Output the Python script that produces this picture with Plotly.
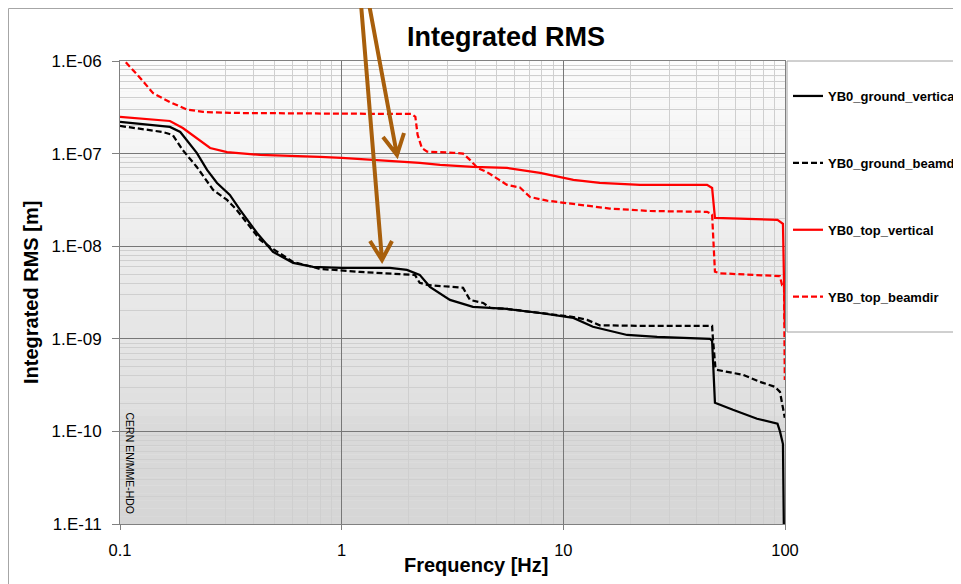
import plotly.graph_objects as go

# ---------------- data ----------------
freq_ground_vertical = [0.1, 0.168, 0.187, 0.222, 0.247, 0.274, 0.313, 0.348, 0.415, 0.49, 0.604, 0.743,
                        1.0, 1.65, 1.97, 2.25, 2.5, 3.08, 3.91, 5.57, 7.85, 11.1, 13.6, 19.4, 26.5, 45.9,
                        46.9, 47.6, 48.3, 58.2, 74.8, 92.5, 94.9, 97.9, 99.8]
rms_ground_vertical = [2.2e-7, 1.94e-7, 1.71e-7, 1.02e-7, 6.67e-8, 4.82e-8, 3.58e-8, 2.47e-8, 1.39e-8, 8.69e-9,
                       6.61e-9, 5.98e-9, 5.83e-9, 5.83e-9, 5.55e-9, 4.9e-9, 3.64e-9, 2.63e-9, 2.21e-9, 2.1e-9,
                       1.9e-9, 1.68e-9, 1.35e-9, 1.1e-9, 1.05e-9, 1.0e-9, 9.5e-10, 5.0e-10, 2.04e-10, 1.71e-10,
                       1.37e-10, 1.21e-10, 1.0e-10, 7.3e-11, 1e-12]

freq_ground_beamdir = [0.1, 0.156, 0.173, 0.192, 0.222, 0.263, 0.304, 0.336, 0.429, 0.475, 0.604, 0.798,
                       1.21, 1.97, 2.14, 2.25, 2.43, 3.53, 3.79, 4.35, 4.67, 5.57, 7.85, 11.1, 12.8, 14.6,
                       22.2, 46.9, 47.3, 48.5, 49.3, 64.7, 77.0, 90.2, 94.9, 97.9, 99.8]
rms_ground_beamdir = [1.99e-7, 1.71e-7, 1.59e-7, 1.09e-7, 7.18e-8, 4.06e-8, 3.16e-8, 2.47e-8, 1.17e-8, 9.8e-9,
                      6.77e-9, 5.69e-9, 5.28e-9, 5.02e-9, 4.9e-9, 4.02e-9, 3.82e-9, 3.55e-9, 2.63e-9, 2.44e-9,
                      2.16e-9, 2.1e-9, 1.9e-9, 1.72e-9, 1.6e-9, 1.4e-9, 1.38e-9, 1.38e-9, 1.0e-9, 5.0e-10,
                      4.62e-10, 4.08e-10, 3.43e-10, 3.03e-10, 2.67e-10, 1.71e-10, 1.4e-10]

freq_top_vertical = [0.1, 0.168, 0.192, 0.255, 0.304, 0.429, 0.798, 1.0, 2.25, 2.78, 3.91, 5.57, 7.85,
                     11.1, 14.6, 22.2, 44.5, 46.9, 48.3, 77.0, 92.5, 97.9, 99.8]
rms_top_vertical = [2.49e-7, 2.25e-7, 1.89e-7, 1.15e-7, 1.04e-7, 9.66e-8, 9.2e-8, 9.0e-8, 7.93e-8, 7.55e-8,
                    7.18e-8, 7.0e-8, 6.18e-8, 5.2e-8, 4.82e-8, 4.6e-8, 4.6e-8, 4.26e-8, 2.02e-8, 1.97e-8,
                    1.93e-8, 1.74e-8, 1.42e-9]

freq_top_beamdir = [0.1, 0.105, 0.123, 0.141, 0.168, 0.2, 0.237, 0.313, 1.0, 2.07, 2.15, 2.2, 2.3, 2.43,
                    3.2, 3.53, 3.8, 4.1, 4.53, 5.57, 6.37, 7.08, 8.44, 10.4, 16.2, 24.6, 44.5, 46.9, 47.5,
                    48.3, 50.9, 77.1, 94.8, 97.0, 99.0, 99.8]
rms_top_beamdir = [1.15e-6, 1.0e-6, 6.6e-7, 4.5e-7, 3.6e-7, 3.0e-7, 2.82e-7, 2.75e-7, 2.7e-7, 2.68e-7,
                   2.5e-7, 1.6e-7, 1.15e-7, 1.05e-7, 1.02e-7, 1.0e-7, 8.5e-8, 7.0e-8, 6.3e-8, 4.6e-8,
                   4.3e-8, 3.4e-8, 3.1e-8, 2.9e-8, 2.55e-8, 2.4e-8, 2.35e-8, 2.2e-8, 1.2e-8, 5.3e-9,
                   5.1e-9, 4.9e-9, 4.75e-9, 3.8e-9, 3.8e-9, 3.6e-10]

series_names = ["YB0_ground_vertical", "YB0_ground_beamdir", "YB0_top_vertical", "YB0_top_beamdir"]
y_tick_values = [1e-11, 1e-10, 1e-9, 1e-8, 1e-7, 1e-6]
y_tick_labels = ["1.E-11", "1.E-10", "1.E-09", "1.E-08", "1.E-07", "1.E-06"]
x_tick_values = [0.1, 1, 10, 100]
x_tick_labels = ["0.1", "1", "10", "100"]

# ---------------- figure ----------------
FONT = "Liberation Sans, Arial, sans-serif"
OFF = 8                      # page offset of the plot div (browser body margin)
W, H = 961, 584 - OFF
PLOT_L, PLOT_R, PLOT_T, PLOT_B = 120, 785, 61, 524   # plot area in page pixels
L, T = PLOT_L - OFF, PLOT_T - OFF
R, B = W - (PLOT_R - OFF), H - (PLOT_B - OFF)
PW, PH = PLOT_R - PLOT_L, PLOT_B - PLOT_T


def px(xp):
    return (xp - PLOT_L) / PW


def py(yp):
    return (PLOT_B - yp) / PH


DASH = "6px,3px"
styles = [("#000000", "solid"), ("#000000", DASH), ("#ff0000", "solid"), ("#ff0000", DASH)]
xs = [freq_ground_vertical, freq_ground_beamdir, freq_top_vertical, freq_top_beamdir]
ys = [rms_ground_vertical, rms_ground_beamdir, rms_top_vertical, rms_top_beamdir]

fig = go.Figure()
for name, x, y, (col, dash) in zip(series_names, xs, ys, styles):
    fig.add_trace(go.Scatter(x=x, y=y, mode="lines", name=name, legendgroup=name,
                             line=dict(color=col, width=2.25, dash=dash)))

shapes = []
# gradient background of plot area (banded)
stops = [(0.0, 252), (0.2, 244), (0.4, 236), (0.6, 229), (0.76, 223), (0.78, 218), (1.0, 214)]
N = 60
for i in range(N):
    t = (i + 0.5) / N
    for (a, ca), (b, cb) in zip(stops[:-1], stops[1:]):
        if a <= t <= b:
            g = int(round(ca + (cb - ca) * (t - a) / (b - a)))
            break
    shapes.append(dict(type="rect", xref="paper", yref="paper", x0=0, x1=1,
                       y0=1 - (i + 1) / N, y1=1 - i / N, layer="below",
                       line=dict(width=0), fillcolor=f"rgb({g},{g},{g})"))

# outer chart frame
shapes.append(dict(type="rect", xref="paper", yref="paper", x0=px(OFF + 0.5), x1=px(1000), y0=py(640),
                   y1=py(OFF + 0.5), line=dict(color="#a6a6a6", width=1), fillcolor="rgba(0,0,0,0)",
                   layer="above"))
# legend box
shapes.append(dict(type="rect", xref="paper", yref="paper", x0=px(787), x1=px(1000), y0=py(332), y1=py(61),
                   line=dict(color="#a0a0a0", width=1), fillcolor="white", layer="above"))

# brown arrows
BROWN = "#a85f0c"
arrows = [((369, 4), (397, 155), (383, 137), (404, 133)),
          ((361, 4), (382, 260), (370, 241), (392, 241))]
for start, tip, a1, a2 in arrows:
    path = (f"M{px(start[0])},{py(start[1])} L{px(tip[0])},{py(tip[1])} "
            f"M{px(a1[0])},{py(a1[1])} L{px(tip[0])},{py(tip[1])} L{px(a2[0])},{py(a2[1])}")
    shapes.append(dict(type="path", xref="paper", yref="paper", path=path,
                       line=dict(color=BROWN, width=4), layer="above"))

annotations = [
    dict(text="<b>Integrated RMS</b>", xref="paper", yref="paper", x=px(506), y=py(37),
         showarrow=False, font=dict(family=FONT, size=27, color="black"), xanchor="center", yanchor="middle"),
    dict(text="<b>Frequency [Hz]</b>", xref="paper", yref="paper", x=px(476), y=py(565),
         showarrow=False, font=dict(family=FONT, size=20, color="black"), xanchor="center", yanchor="middle"),
    dict(text="<b>Integrated RMS [m]</b>", xref="paper", yref="paper", x=px(31), y=py(293),
         showarrow=False, textangle=-90, font=dict(family=FONT, size=20, color="black"),
         xanchor="center", yanchor="middle"),
    dict(text="CERN EN/MME-HDO", xref="paper", yref="paper", x=px(129.5), y=py(463),
         showarrow=False, textangle=90,
         font=dict(family="Liberation Sans Narrow, Arial Narrow, " + FONT, size=10.5, color="black"),
         xanchor="center", yanchor="middle"),
]

fig.update_layout(
    width=W, height=H,
    margin=dict(l=L, r=R, t=T, b=B, autoexpand=False),
    paper_bgcolor="white", plot_bgcolor="#e8e8e8",
    font=dict(family=FONT, color="black"),
    showlegend=True,
    legend=dict(x=px(788), y=py(81), xanchor="left", yanchor="top", bgcolor="rgba(0,0,0,0)",
                borderwidth=0, tracegroupgap=47, itemwidth=30,
                font=dict(family=FONT, size=13, color="black", weight="bold")),
    shapes=shapes, annotations=annotations,
)
fig.update_xaxes(type="log", range=[-1, 2], tickmode="array", tickvals=x_tick_values, ticktext=x_tick_labels,
                 ticks="outside", ticklen=5, tickcolor="#808080", ticklabelstandoff=6,
                 tickfont=dict(family=FONT, size=16.5, color="black"),
                 showline=True, linecolor="#808080", linewidth=1, mirror=True,
                 showgrid=True, gridcolor="#777777", gridwidth=1, zeroline=False,
                 minor=dict(dtick="D1", showgrid=True, gridcolor="#cfcfcf", gridwidth=1, ticks=""))
fig.update_yaxes(type="log", range=[-11, -6], tickmode="array", tickvals=y_tick_values, ticktext=y_tick_labels,
                 ticks="outside", ticklen=7, tickcolor="#808080", ticklabelstandoff=7,
                 tickfont=dict(family=FONT, size=17, color="black"),
                 showline=True, linecolor="#808080", linewidth=1, mirror=True,
                 showgrid=True, gridcolor="#777777", gridwidth=1, zeroline=False,
                 minor=dict(dtick="D1", showgrid=True, gridcolor="#cfcfcf", gridwidth=1, ticks=""))

fig.write_html("out.html")
